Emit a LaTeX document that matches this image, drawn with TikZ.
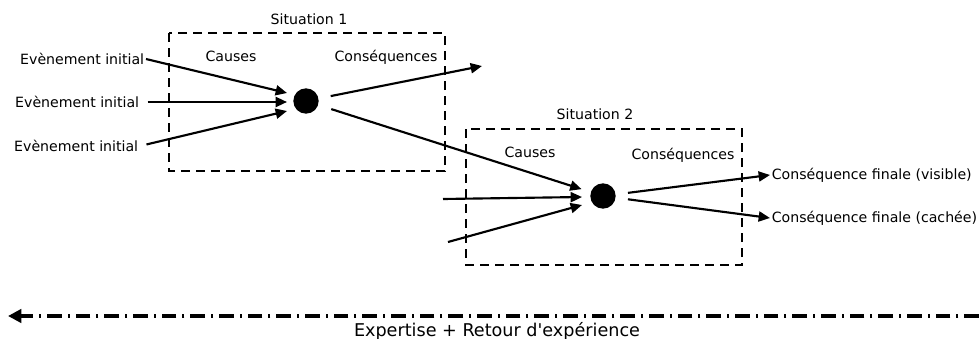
\documentclass[tikz,border=0pt]{standalone}
\usepackage{fontspec}
\setmainfont{DejaVu Sans}
\usetikzlibrary{arrows.meta}
\tikzset{every picture/.style={line width=0.75pt}}

\begin{document}
\begin{tikzpicture}[x=0.75pt,y=0.75pt,yscale=-1,xscale=1,
  txt/.style={font=\fontsize{10.6}{13}\selectfont, inner sep=1pt},
  zone/.style={dash pattern=on 6.75pt off 4.5pt, line width=1.5pt},
  dot/.style={circle, fill=black, minimum size=19pt, inner sep=0pt},
  arr/.style={line width=1.6pt, -{Triangle[length=8.5pt,width=7.5pt]}},
  retour/.style={line width=3.2pt, dash pattern=on 11pt off 4.5pt on 1.5pt off 4.5pt, -{Triangle[length=10pt,width=10pt]}}]
\useasboundingbox (0,0) rectangle (979,339);

%Situation 1
\draw [zone] (169,33) rectangle (445,171);
\node [txt] (sit1) at (309,19) {Situation 1};
\node [txt] (cau1) at (231,56) {Causes};
\node [txt] (con1) at (386,57) {Conséquences};
\node [dot] (dot1) at (306,101) {};

%Situation 2
\draw [zone] (466,129) rectangle (742,265);
\node [txt] (sit2) at (595,114) {Situation 2};
\node [txt] (cau2) at (530,152) {Causes};
\node [txt] (con2) at (683,155) {Conséquences};
\node [dot] (dot2) at (603,196) {};

% Evenements initiaux
\node [txt, anchor=east] (ev1) at (146,59) {Evènement initial};
\node [txt, anchor=east] (ev2) at (141,102) {Evènement initial};
\node [txt, anchor=east] (ev3) at (140,146) {Evènement initial};
\coordinate (in1) at (287,93);
\coordinate (in2) at (287,102);
\coordinate (in3) at (287,111);
\draw [arr] (ev1.east) -- (in1);
\draw [arr, shorten <=5pt] (ev2.east) -- (in2);
\draw [arr, shorten <=5pt] (ev3.east) -- (in3);

% Consequences situation 1
\coordinate (out1) at (482,66);
\draw [arr, shorten <=9pt] (dot1) -- (out1);
\draw [arr, shorten <=10pt, shorten >=7pt] (dot1) -- (dot2);

% Causes situation 2
\coordinate (src1) at (443,199);
\coordinate (src2) at (448,242);
\coordinate (in4) at (582,197);
\coordinate (in5) at (582,205);
\draw [arr] (src1) -- (in4);
\draw [arr] (src2) -- (in5);

% Consequences finales
\node [txt, anchor=west] (fin1) at (770,175) {Conséquence finale (visible)};
\node [txt, anchor=west] (fin2) at (770,218) {Conséquence finale (cachée)};
\draw [arr, shorten <=9pt] (dot2) -- (fin1.west);
\draw [arr, shorten <=9pt] (dot2) -- (fin2.west);

% Retour d'experience
\coordinate (rexd) at (979,316);
\coordinate (rexg) at (8,316);
\draw [retour] (rexd) -- (rexg);
\node [font=\fontsize{13.2}{16}\selectfont] (rex) at (497,331) {Expertise + Retour d\textquotesingle expérience};

\end{tikzpicture}
\end{document}
